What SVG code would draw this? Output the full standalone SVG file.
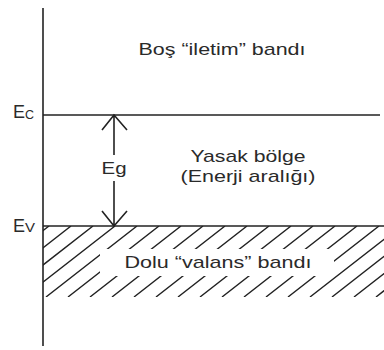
<svg xmlns="http://www.w3.org/2000/svg" width="384" height="350" viewBox="0 0 384 350">
<style>
.ln{stroke:#222;stroke-width:1.6;fill:none}
.ht{stroke:#222;stroke-width:1.4;fill:none}
.tx{font-family:"Liberation Sans",Arial,sans-serif;font-size:17px;fill:#2a2a2a}
.lb{font-size:18px}
.sb{font-size:13px}
</style>
<defs>
<clipPath id="hc"><rect x="43" y="226" width="341" height="71"/></clipPath>
</defs>
<rect width="384" height="350" fill="#fff"/>
<g id="hatch" clip-path="url(#hc)">
<path class="ht" d="M-42,297 l91,-71 M-20,297 l91,-71 M2,297 l91,-71 M24,297 l91,-71 M46,297 l91,-71 M68,297 l91,-71 M90,297 l91,-71 M112,297 l91,-71 M134,297 l91,-71 M156,297 l91,-71 M178,297 l91,-71 M200,297 l91,-71 M222,297 l91,-71 M244,297 l91,-71 M266,297 l91,-71 M288,297 l91,-71 M310,297 l91,-71 M332,297 l91,-71 M354,297 l91,-71 M376,297 l91,-71"/>
<rect x="100" y="249" width="234" height="27" fill="#fff"/>
</g>
<g id="connectors">
<line class="ln" x1="43" y1="8" x2="43" y2="346"/>
<line class="ln" x1="43" y1="115" x2="380" y2="115"/>
<line class="ln" x1="43" y1="226" x2="384" y2="226"/>
<path class="ln" d="M114,155 V115 M102,130 L114,115 L127,130"/>
<path class="ln" d="M114,181 V226 M102,211 L114,226 L127,211"/>
</g>
<g id="conduction"><text class="tx" x="222" y="55" text-anchor="middle" textLength="167" lengthAdjust="spacingAndGlyphs">Boş “iletim” bandı</text></g>
<g id="Ec"><text class="tx lb" x="13" y="118" textLength="12" lengthAdjust="spacingAndGlyphs">E</text><text class="tx sb" x="25" y="119" textLength="9" lengthAdjust="spacingAndGlyphs">C</text></g>
<g id="Ev"><text class="tx lb" x="13" y="232" textLength="12" lengthAdjust="spacingAndGlyphs">E</text><text class="tx sb" x="25" y="232" textLength="10" lengthAdjust="spacingAndGlyphs">V</text></g>
<g id="Eg"><text class="tx" x="114" y="174" text-anchor="middle" textLength="25" lengthAdjust="spacingAndGlyphs">Eg</text></g>
<g id="gap"><text class="tx" x="248" y="162" text-anchor="middle" textLength="115" lengthAdjust="spacingAndGlyphs">Yasak bölge</text><text class="tx" x="248" y="182" text-anchor="middle" textLength="135" lengthAdjust="spacingAndGlyphs">(Enerji aralığı)</text></g>
<g id="valence"><text class="tx" x="218" y="268" text-anchor="middle" textLength="187" lengthAdjust="spacingAndGlyphs">Dolu “valans” bandı</text></g>
</svg>
